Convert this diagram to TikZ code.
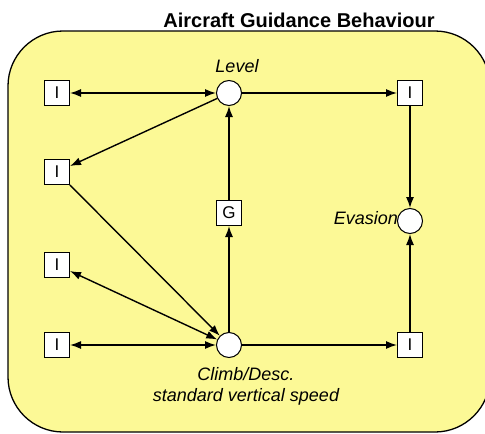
\documentclass[tikz,border=0pt]{standalone}
\usepackage{fontspec}
\setmainfont{Liberation Sans}
\usetikzlibrary{arrows.meta}
\definecolor{panel}{RGB}{252,249,150}
\begin{document}
\begin{tikzpicture}[x=1pt,y=-1pt,
  lbl/.style={font=\fontsize{18}{21}\selectfont\itshape},
  ibox/.style={draw,fill=white,line width=1pt,minimum size=25pt,inner sep=0pt,font=\fontsize{17}{17}\selectfont},
  place/.style={draw,fill=white,circle,line width=1pt,minimum size=25pt,inner sep=0pt},
  link/.style={line width=1.4pt,-{Latex[length=11pt,width=8pt]}},
  blink/.style={line width=1.4pt,{Latex[length=11pt,width=8pt]}-{Latex[length=11pt,width=8pt]}}]
\useasboundingbox (0,0) rectangle (485,434);
\fill[white] (0,0) rectangle (485,434);
% container
\draw[fill=panel,line width=1.3pt,rounded corners=55pt] (8,31) rectangle (490,432);
\node[font=\fontsize{20}{24}\selectfont\bfseries] (title) at (299,20) {Aircraft Guidance Behaviour};
% places
\node[place] (level) at (229,93) {};
\node[place] (climb) at (229,345) {};
\node[place] (evasion) at (410,221) {};
\node[lbl] (levellbl) at (237,66) {Level};
\node[lbl,anchor=east,inner sep=0pt] (evlbl) at (398,218) {Evasion};
\node[lbl,align=center] (climblbl) at (246,386) {Climb/Desc.\\standard vertical speed};
% transitions
\node[ibox] (i1) at (57,93) {I};
\node[ibox] (i2) at (57,172) {I};
\node[ibox] (i3) at (57,265) {I};
\node[ibox] (i4) at (57,345) {I};
\node[ibox] (ir1) at (410,93) {I};
\node[ibox] (ir2) at (410,345) {I};
\node[ibox] (g) at (229,213) {G};
% arcs
\draw[blink] (i1) -- (level);
\draw[link] (level) -- (ir1);
\draw[link] (ir1) -- (evasion);
\draw[link] (level) -- (i2);
\draw[link] (i2) -- (climb);
\draw[blink] (i3) -- (climb);
\draw[blink] (i4) -- (climb);
\draw[link] (climb) -- (ir2);
\draw[link] (ir2) -- (evasion);
\draw[link] (climb) -- (g);
\draw[link] (g) -- (level);
\end{tikzpicture}
\end{document}
